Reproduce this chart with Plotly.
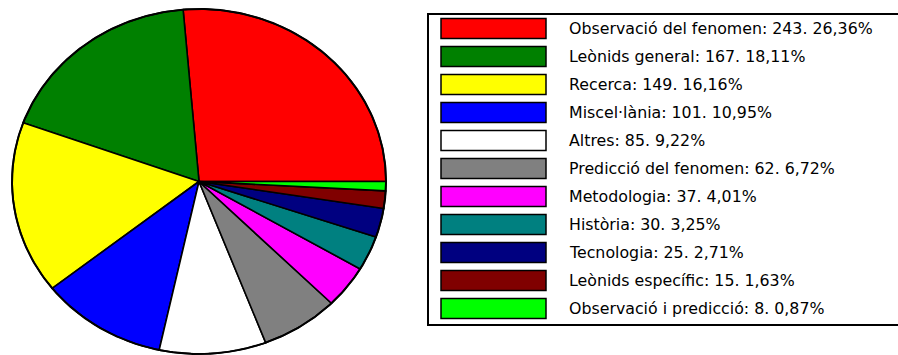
import math
import plotly.graph_objects as go

# Categories, counts and slice colours
categories = [
    "Observació del fenomen", "Leònids general", "Recerca", "Miscel·lània",
    "Altres", "Predicció del fenomen", "Metodologia", "Història",
    "Tecnologia", "Leònids específic", "Observació i predicció",
]
counts = [243, 167, 149, 101, 85, 62, 37, 30, 25, 15, 8]
colors = [
    "#ff0000", "#008000", "#ffff00", "#0000ff", "#ffffff", "#808080",
    "#ff00ff", "#008080", "#000080", "#800000", "#00ff00",
]

W, H = 898, 355
CX, CY, RX, RY = 199, 181.5, 187, 172.5   # elliptical pie geometry (px)

total = sum(counts)
fig = go.Figure()


def ellipse_pt(deg):
    a = math.radians(deg)
    return CX + RX * math.cos(a), CY - RY * math.sin(a)


# Slices, counter-clockwise from 3 o'clock
start = 0.0
for cat, val, col in zip(categories, counts, colors):
    sweep = 360.0 * val / total
    n = max(4, int(sweep * 2))
    xs, ys = [CX], [CY]
    for i in range(n + 1):
        x, y = ellipse_pt(start + sweep * i / n)
        xs.append(x)
        ys.append(y)
    xs.append(CX)
    ys.append(CY)
    fig.add_trace(go.Scatter(
        x=xs, y=ys, mode="lines", fill="toself", fillcolor=col,
        line=dict(color="black", width=1.6), name=cat,
        hoverinfo="name", showlegend=False,
    ))
    start += sweep

# Outer rim
rim = [ellipse_pt(i / 2) for i in range(721)]
fig.add_trace(go.Scatter(
    x=[p[0] for p in rim], y=[p[1] for p in rim], mode="lines",
    line=dict(color="black", width=2), hoverinfo="skip", showlegend=False,
))

# Legend panel
shapes = [
    dict(type="rect", xref="x", yref="y", x0=428, x1=W + 2, y0=14, y1=325,
         line=dict(color="black", width=2), fillcolor="rgba(0,0,0,0)"),
]
annotations = []
row0, pitch = 28.5, 28
for i, (cat, val, col) in enumerate(zip(categories, counts, colors)):
    yc = row0 + i * pitch
    shapes.append(dict(
        type="rect", xref="x", yref="y", x0=441, x1=546, y0=yc - 10, y1=yc + 10,
        line=dict(color="black", width=1.5), fillcolor=col,
    ))
    pct = f"{100.0 * val / total:.2f}".replace(".", ",")
    annotations.append(dict(
        x=567, y=yc, xref="x", yref="y", xanchor="left", yanchor="middle",
        text=f"{cat}: {val}. {pct}%", showarrow=False,
        font=dict(family="DejaVu Sans", size=15.8, color="black"),
    ))

fig.update_layout(
    width=W, height=H, margin=dict(l=0, r=0, t=0, b=0),
    paper_bgcolor="white", plot_bgcolor="white",
    xaxis=dict(range=[0, W], visible=False, fixedrange=True),
    yaxis=dict(range=[H, 0], visible=False, fixedrange=True),
    shapes=shapes, annotations=annotations, showlegend=False,
)

fig.write_html("out.html")
